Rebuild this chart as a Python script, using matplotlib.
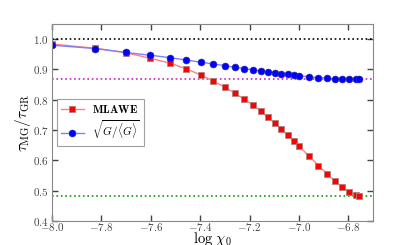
import matplotlib
matplotlib.use('Agg')
import matplotlib.pyplot as plt

plt.rcParams['mathtext.fontset'] = 'cm'
plt.rcParams['font.family'] = 'serif'
plt.rcParams['font.serif'] = ['DejaVu Serif']

# log chi_0 values
log_chi = [-8.0, -7.824, -7.699, -7.602, -7.523, -7.456, -7.398, -7.347, -7.301,
           -7.260, -7.222, -7.187, -7.155, -7.125, -7.097, -7.071, -7.046, -7.022,
           -7.0, -6.959, -6.921, -6.886, -6.854, -6.824, -6.796, -6.770, -6.755]

mlawe = [0.984, 0.970, 0.955, 0.937, 0.921, 0.902, 0.882, 0.862, 0.842,
         0.822, 0.802, 0.783, 0.762, 0.742, 0.722, 0.703, 0.684, 0.665,
         0.647, 0.614, 0.583, 0.555, 0.531, 0.511, 0.497, 0.487, 0.484]

sqrt_g = [0.980, 0.969, 0.956, 0.947, 0.939, 0.931, 0.924, 0.918, 0.913,
          0.907, 0.903, 0.899, 0.895, 0.892, 0.889, 0.886, 0.884, 0.881,
          0.879, 0.876, 0.873, 0.871, 0.869, 0.868, 0.867, 0.867, 0.867]

ref_one = 1.0
ref_sqrt = 0.867
ref_mlawe = 0.4835

fig = plt.figure(figsize=(4.15, 2.45), dpi=100)
ax = fig.add_axes([0.125, 0.098, 0.774, 0.804])

ax.axhline(ref_one, color='black', linestyle=':', lw=1.2)
ax.axhline(ref_sqrt, color='#cc22cc', linestyle=':', lw=1.2)
ax.axhline(ref_mlawe, color='#119911', linestyle=':', lw=1.2)

ax.plot(log_chi, mlawe, color='#ff8080', lw=1.0, marker='s', ms=5,
        mfc='red', mec='#b08080', mew=0.6, label=r'$\mathbf{MLAWE}$')
ax.plot(log_chi, sqrt_g, color='#8080ff', lw=1.0, marker='o', ms=5,
        mfc='blue', mec='#3030a0', mew=0.4,
        label=r'$\sqrt{G/\langle G\rangle}$')

ax.set_xlim(-8.0, -6.7)
ax.set_ylim(0.4, 1.05)
ax.set_xticks([-8.0, -7.8, -7.6, -7.4, -7.2, -7.0, -6.8])
ax.set_yticks([0.4, 0.5, 0.6, 0.7, 0.8, 0.9, 1.0])
ax.set_xticklabels([r'$-8.0$', r'$-7.8$', r'$-7.6$', r'$-7.4$', r'$-7.2$', r'$-7.0$', r'$-6.8$'])
ax.set_yticklabels([r'$0.4$', r'$0.5$', r'$0.6$', r'$0.7$', r'$0.8$', r'$0.9$', r'$1.0$'])

ax.tick_params(direction='in', top=True, right=True, length=4, width=1,
               labelsize=8, color='#444444', labelcolor='#444444')
ax.tick_params(axis='x', pad=0)
ax.tick_params(axis='y', pad=2)
for s in ax.spines.values():
    s.set_color('#888888')

ax.set_xlabel(r'$\log\,\chi_0$', fontsize=10.5, labelpad=-2)
ax.set_ylabel(r'$\tau_{\rm MG}/\tau_{\rm GR}$', fontsize=11, labelpad=0)

leg = ax.legend(loc='center left', bbox_to_anchor=(0.0, 0.5), fontsize=8,
                fancybox=False, edgecolor='#888888', handlelength=2.0,
                borderpad=0.35, labelspacing=0.3, handletextpad=0.8)
leg.get_frame().set_linewidth(0.8)

fig.savefig('out.png', dpi=100)
